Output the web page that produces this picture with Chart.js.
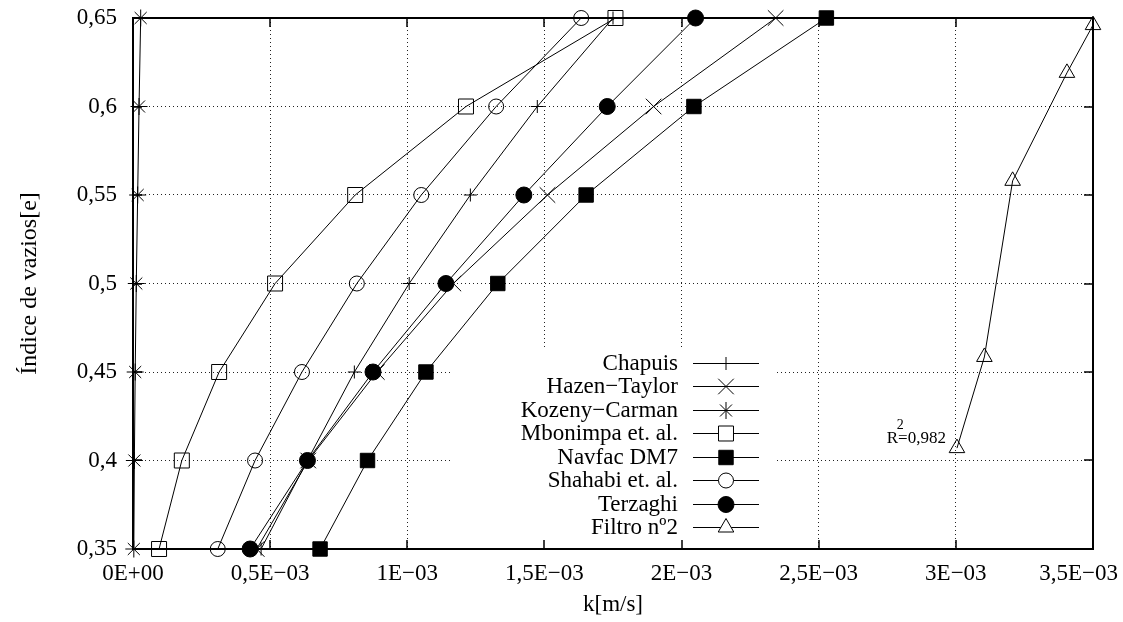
<!DOCTYPE html>
<html><head><meta charset="utf-8">
<script src="https://cdn.jsdelivr.net/npm/chart.js@4.4.1/dist/chart.umd.min.js"></script>
<style>html,body{margin:0;padding:0;background:#fff;}canvas{display:block;}</style>
</head><body>
<canvas id="c" width="1123" height="622"></canvas>
<script>
// ---- data ----
const voidRatio = [0.35, 0.40, 0.45, 0.50, 0.55, 0.60, 0.65];
const chapuis = [0.467e-3, 0.636e-3, 0.807e-3, 1.007e-3, 1.230e-3, 1.474e-3, 1.750e-3];
const hazenTaylor = [0.451e-3, 0.639e-3, 0.889e-3, 1.168e-3, 1.511e-3, 1.898e-3, 2.343e-3];
const kozenyCarman = [0.003e-3, 0.005e-3, 0.008e-3, 0.012e-3, 0.017e-3, 0.022e-3, 0.028e-3];
const mbonimpa = [0.095e-3, 0.178e-3, 0.314e-3, 0.518e-3, 0.810e-3, 1.214e-3, 1.759e-3];
const navfac = [0.682e-3, 0.855e-3, 1.068e-3, 1.330e-3, 1.652e-3, 2.045e-3, 2.528e-3];
const shahabi = [0.309e-3, 0.445e-3, 0.616e-3, 0.816e-3, 1.051e-3, 1.324e-3, 1.634e-3];
const terzaghi = [0.427e-3, 0.636e-3, 0.875e-3, 1.141e-3, 1.425e-3, 1.729e-3, 2.051e-3];
const filtroK = [3.004e-3, 3.104e-3, 3.207e-3, 3.405e-3, 3.500e-3];
const filtroE = [0.407, 0.4585, 0.558, 0.619, 0.646];

const seriesNames = ['Chapuis', 'Hazen\u2212Taylor', 'Kozeny\u2212Carman', 'Mbonimpa et. al.',
  'Navfac DM7', 'Shahabi et. al.', 'Terzaghi', 'Filtro n\u00ba2'];
const xTickValues = [0, 0.5e-3, 1e-3, 1.5e-3, 2e-3, 2.5e-3, 3e-3, 3.5e-3];
const xTickLabels = ['0E+00', '0,5E\u221203', '1E\u221203', '1,5E\u221203', '2E\u221203', '2,5E\u221203', '3E\u221203', '3,5E\u221203'];
const yTickValues = [0.35, 0.40, 0.45, 0.50, 0.55, 0.60, 0.65];
const yTickLabels = ['0,35', '0,4', '0,45', '0,5', '0,55', '0,6', '0,65'];
const annotationText = 'R=0,982';

// ---- styles ----
const markerStyles = [
  {style: 'cross', r: 6.5, filled: false},
  {style: 'crossRot', r: 11, filled: false},
  {style: 'star', r: 8.5, filled: false},
  {style: 'rect', r: 10.6, filled: false},
  {style: 'rect', r: 10.2, filled: true},
  {style: 'circle', r: 7.5, filled: false},
  {style: 'circle', r: 8, filled: true},
  {style: 'triangle', r: 9, filled: false}
];
const FONT = "'Liberation Serif', 'Times New Roman', serif";

const kSeries = [chapuis, hazenTaylor, kozenyCarman, mbonimpa, navfac, shahabi, terzaghi];
const datasets = seriesNames.map((name, i) => {
  const m = markerStyles[i];
  const data = i < 7 ? kSeries[i].map((k, j) => ({x: k, y: voidRatio[j]}))
                     : filtroK.map((k, j) => ({x: k, y: filtroE[j]}));
  return {
    label: name, data, showLine: true, borderColor: '#000', borderWidth: 1,
    pointStyle: m.style, pointRadius: m.r, pointHoverRadius: m.r,
    pointBorderColor: '#000', pointBorderWidth: 1,
    pointBackgroundColor: m.filled ? '#000' : 'rgba(0,0,0,0)',
    clip: false, tension: 0
  };
});

function drawMarker(ctx, style, x, y, r, fill) {
  ctx.beginPath();
  let closed = true;
  if (style === 'circle') { ctx.arc(x, y, r, 0, Math.PI * 2); }
  else if (style === 'rect') { const s = r * Math.SQRT1_2; ctx.rect(x - s, y - s, 2 * s, 2 * s); }
  else if (style === 'triangle') {
    for (let k = 0; k < 3; k++) {
      const a = k * 2 * Math.PI / 3;
      const px = x + Math.sin(a) * r, py = y - Math.cos(a) * r;
      if (k === 0) ctx.moveTo(px, py); else ctx.lineTo(px, py);
    }
    ctx.closePath();
  } else {
    closed = false;
    if (style === 'cross' || style === 'star') {
      ctx.moveTo(x, y - r); ctx.lineTo(x, y + r); ctx.moveTo(x - r, y); ctx.lineTo(x + r, y);
    }
    if (style === 'crossRot' || style === 'star') {
      const d = r * Math.SQRT1_2;
      ctx.moveTo(x - d, y - d); ctx.lineTo(x + d, y + d); ctx.moveTo(x - d, y + d); ctx.lineTo(x + d, y - d);
    }
  }
  if (closed && fill) { ctx.fillStyle = fill; ctx.fill(); }
  ctx.stroke();
}

const framePlugin = {
  id: 'frameLegend',
  beforeDatasetsDraw(chart, args, opts) {
    const {ctx, chartArea: a} = chart;
    const xs = chart.scales.x, ys = chart.scales.y;
    ctx.save();
    // legend background box (hides grid lines)
    ctx.fillStyle = '#fff';
    ctx.fillRect(opts.box.left, opts.box.top, opts.box.right - opts.box.left, a.bottom - 1 - opts.box.top);
    // frame
    ctx.strokeStyle = '#000';
    ctx.lineWidth = 2;
    ctx.strokeRect(a.left, a.top, a.right - a.left, a.bottom - a.top);
    // inward tick marks
    ctx.lineWidth = 1.5;
    const tl = 9;
    ctx.beginPath();
    xs.ticks.forEach(t => {
      const p = Math.round(xs.getPixelForValue(t.value));
      ctx.moveTo(p, a.bottom); ctx.lineTo(p, a.bottom - tl);
      ctx.moveTo(p, a.top); ctx.lineTo(p, a.top + tl);
    });
    ys.ticks.forEach(t => {
      const p = Math.round(ys.getPixelForValue(t.value));
      ctx.moveTo(a.left, p); ctx.lineTo(a.left + tl, p);
      ctx.moveTo(a.right, p); ctx.lineTo(a.right - tl, p);
    });
    ctx.stroke();
    ctx.restore();
  },
  afterDatasetsDraw(chart, args, opts) {
    const {ctx} = chart;
    const xs = chart.scales.x, ys = chart.scales.y;
    ctx.save();
    // legend entries
    ctx.font = '23px ' + FONT;
    ctx.textAlign = 'right';
    ctx.textBaseline = 'middle';
    ctx.fillStyle = '#000';
    ctx.strokeStyle = '#000';
    ctx.lineWidth = 1;
    chart.data.datasets.forEach((ds, i) => {
      const y = opts.firstRowY + i * opts.rowGap;
      ctx.fillStyle = '#000';
      ctx.fillText(ds.label, opts.textRight, y + 1);
      ctx.beginPath();
      ctx.moveTo(opts.lineLeft, Math.round(y) + 0.5);
      ctx.lineTo(opts.lineRight, Math.round(y) + 0.5);
      ctx.stroke();
      const m = markerStyles[i];
      const mx = (opts.lineLeft + opts.lineRight) / 2;
      drawMarker(ctx, m.style, mx, Math.round(y) + 0.5, m.r, m.filled ? '#000' : '#fff');
    });
    // R^2 annotation next to the first Filtro point
    const px = xs.getPixelForValue(filtroK[0]);
    const py = ys.getPixelForValue(filtroE[0]);
    ctx.font = '17px ' + FONT;
    ctx.textAlign = 'right';
    ctx.textBaseline = 'alphabetic';
    ctx.fillStyle = '#000';
    const right = px - 11, base = py - 5;
    ctx.fillText(annotationText, right, base);
    const w = ctx.measureText(annotationText).width;
    ctx.font = '14px ' + FONT;
    ctx.textAlign = 'center';
    ctx.fillText('2', right - w + 13.5, base - 14);
    ctx.restore();
  }
};

new Chart(document.getElementById('c'), {
  type: 'scatter',
  data: {datasets},
  plugins: [framePlugin],
  options: {
    responsive: false, animation: false, devicePixelRatio: 1,
    layout: {padding: {top: 18, right: 30, left: 0, bottom: 0}},
    plugins: {
      legend: {display: false}, tooltip: {enabled: false},
      frameLegend: {box: {left: 450, right: 775, top: 350}, firstRowY: 362.7, rowGap: 23.5,
        textRight: 678, lineLeft: 693, lineRight: 759}
    },
    scales: {
      x: {
        type: 'linear', min: 0, max: 3.5e-3,
        afterBuildTicks(s) { s.ticks = xTickValues.map(v => ({value: v})); },
        afterFit(s) { s.height = 73; s.paddingLeft = 0; s.paddingRight = 0; },
        grid: {color: '#222', lineWidth: 1, drawTicks: false},
        border: {display: false, dash: [1, 3]},
        ticks: {
          padding: 11, maxRotation: 0, autoSkip: false, color: '#000',
          font: {family: FONT, size: 23},
          callback: (v, i) => i === xTickLabels.length - 1 ? xTickLabels[i] + '\u00a0\u00a0\u00a0\u00a0\u00a0' : xTickLabels[i]
        },
        title: {display: true, text: 'k[m/s]', color: '#000', font: {family: FONT, size: 23}, padding: {top: 0, bottom: 3}}
      },
      y: {
        type: 'linear', min: 0.35, max: 0.65,
        afterBuildTicks(s) { s.ticks = yTickValues.map(v => ({value: v})); },
        afterFit(s) { s.width = 133; s.paddingTop = 0; s.paddingBottom = 0; },
        grid: {color: '#222', lineWidth: 1, drawTicks: false},
        border: {display: false, dash: [1, 3]},
        ticks: {
          padding: 16, autoSkip: false, color: '#000',
          font: {family: FONT, size: 23},
          callback: (v, i) => yTickLabels[i]
        },
        title: {display: true, text: '\u00cdndice de vazios[e]', color: '#000', font: {family: FONT, size: 24}, padding: {top: 15, bottom: 0}}
      }
    }
  }
});
</script>
</body></html>
